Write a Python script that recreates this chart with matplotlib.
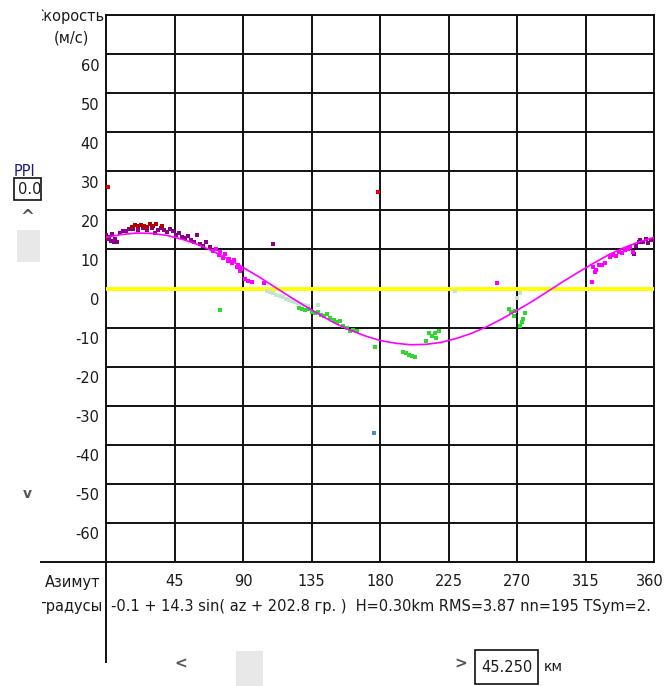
import matplotlib.pyplot as plt
import matplotlib.transforms as mtransforms
from matplotlib.patches import Rectangle
from matplotlib.lines import Line2D
from matplotlib.transforms import Bbox, TransformedBbox

W, H = 665, 686

# fitted curve, every 10 degrees
fit_az = list(range(0, 361, 10))
fit_v = [13.1, 13.8, 14.2, 14.1, 13.6, 12.6, 11.3, 9.6, 7.6, 5.4, 3.1, 0.6,
         -1.9, -4.3, -6.6, -8.8, -10.6, -12.1, -13.3, -14.0, -14.4, -14.3,
         -13.8, -12.8, -11.5, -9.8, -7.8, -5.6, -3.3, -0.8, 1.7, 4.1, 6.4,
         8.6, 10.4, 11.9, 13.1]

# measured points by colour group
red_az = [1, 179]
red_v = [26.0, 24.6]

darkred_az = [17, 19, 21, 23, 25, 27, 29, 31, 33, 37]
darkred_v = [15.8, 16.2, 15.9, 16.3, 16.0, 15.7, 16.4, 16.1, 16.6, 16.0]

purple_az = [0, 1, 2, 3, 4, 5, 6, 7, 9, 11, 13, 15, 18, 21, 24, 27, 30, 32, 34,
             36, 38, 40, 42, 44, 46, 48, 50, 52, 54, 56, 58, 60, 62, 64, 66, 68,
             110, 347, 348, 350, 351, 353, 355, 356, 358, 359]
purple_v = [13.8, 12.6, 13.3, 12.2, 13.9, 12.0, 12.6, 11.9, 14.3, 14.8, 14.6,
            15.2, 15.3, 15.0, 15.4, 15.1, 15.5, 14.3, 14.9, 15.6, 15.0, 14.4,
            15.2, 14.6, 13.6, 14.1, 13.2, 12.9, 13.5, 12.3, 12.0, 13.8, 11.4,
            10.9, 11.9, 10.6, 11.3, 8.8, 11.0, 11.8, 12.4, 12.0, 12.6, 11.7,
            12.5, 12.3]

magenta_az = [70, 72, 74, 75, 77, 78, 80, 81, 83, 84, 86, 87, 88, 89, 91, 93,
              96, 104, 257, 319, 320, 321, 322, 324, 326, 328, 331, 333, 335,
              337, 339, 341, 343, 344, 346]
magenta_v = [9.6, 10.1, 8.6, 9.4, 7.9, 8.8, 7.0, 7.6, 6.4, 7.2, 5.4, 6.1, 4.5,
             5.0, 2.4, 2.0, 1.7, 1.5, 1.4, 1.6, 5.6, 4.3, 4.8, 6.0, 5.9, 6.6,
             8.0, 8.7, 8.3, 9.4, 9.0, 9.8, 10.2, 10.5, 9.3]

ltgreen_az = [106, 108, 110, 112, 114, 116, 118, 120, 122, 124, 126, 128, 130,
              133, 139, 229, 270, 272]
ltgreen_v = [-0.6, -0.9, -1.2, -1.6, -2.0, -2.2, -2.6, -2.9, -3.1, -3.4, -3.8,
             -4.0, -4.3, -4.6, -4.1, -0.6, -2.4, -1.2]

green_az = [75, 127, 129, 131, 133, 135, 137, 139, 141, 143, 145, 147, 150,
            152, 154, 156, 158, 160, 162, 165, 177, 195, 197, 199, 201, 203,
            210, 212, 214, 216, 217, 219, 265, 266, 268, 269, 272, 273, 274, 275]
green_v = [-5.5, -5.0, -5.2, -5.6, -5.3, -5.9, -6.3, -6.0, -6.8, -7.1, -6.6,
           -7.5, -8.0, -8.6, -8.2, -9.5, -10.0, -11.0, -10.5, -10.9, -15.0,
           -16.3, -16.6, -17.0, -17.3, -17.5, -13.4, -11.3, -12.2, -11.5, -12.6,
           -11.0, -5.3, -6.0, -7.0, -5.8, -9.5, -8.6, -7.9, -6.3]

blue_az = [176]
blue_v = [-36.9]

x_ticks = [45, 90, 135, 180, 225, 270, 315, 360]
y_ticks = [60, 50, 40, 30, 20, 10, 0, -10, -20, -30, -40, -50, -60]
fit_text = "-0.1 + 14.3 sin( az + 202.8 гр. )  H=0.30km RMS=3.87 nn=195 TSym=2."

plt.rcParams['font.family'] = ['DejaVu Sans']

fig = plt.figure(figsize=(W / 100, H / 100), dpi=100)


def fx(x):
    return x / W


def fy(y):
    return 1 - y / H


ax = fig.add_axes([fx(106), fy(562), (654 - 106) / W, (562 - 15) / H])
ax.set_xlim(0, 360)
ax.set_ylim(-70, 70)
ax.set_xticks(range(0, 361, 45))
ax.set_yticks(range(-70, 71, 10))
ax.grid(True, color='#111111', lw=1.4)
ax.tick_params(length=0, labelleft=False, labelbottom=False)
for s in ax.spines.values():
    s.set_color('#111111')
    s.set_linewidth(1.4)

ax.axhline(0, color='#ffff00', lw=2.8, zorder=3)

ms = 3.3
ax.plot(ltgreen_az, ltgreen_v, 's', color='#c2e6cc', ms=ms, mew=0, zorder=4)
ax.plot(green_az, green_v, 's', color='#2fd82f', ms=ms, mew=0, zorder=4)
ax.plot(purple_az, purple_v, 's', color='#880088', ms=ms, mew=0, zorder=4)
ax.plot(darkred_az, darkred_v, 's', color='#b00000', ms=ms, mew=0, zorder=4)
ax.plot(magenta_az, magenta_v, 's', color='#ff00ff', ms=ms, mew=0, zorder=4)
ax.plot(red_az, red_v, 's', color='#e00000', ms=ms, mew=0, zorder=4)
ax.plot(blue_az, blue_v, 's', color='#3d8fc4', ms=ms, mew=0, zorder=4)
ax.plot(fit_az, fit_v, '-', color='#ff00ff', lw=1.2, zorder=5)

# y labels sit a bit below their grid line
lab_tr = mtransforms.blended_transform_factory(ax.transAxes, ax.transData) + \
    mtransforms.ScaledTranslation(0, -12 / 100, fig.dpi_scale_trans)
for v in y_ticks:
    ax.text(-0.012, v, str(v), transform=lab_tr, ha='right', va='center',
            fontsize=10.5, color='#1a1a1a')

xl_tr = mtransforms.blended_transform_factory(ax.transData, ax.transAxes) + \
    mtransforms.ScaledTranslation(0, -20 / 100, fig.dpi_scale_trans)
for a in x_ticks:
    t = ax.text(a, 0, str(a), transform=xl_tr, ha='center', va='center',
                fontsize=10.5, color='#1a1a1a', clip_on=False)
    if a == 360:
        t.set_ha('right')
        t.set_transform(xl_tr + mtransforms.ScaledTranslation(10 / 100, 0, fig.dpi_scale_trans))

# extra frame lines outside the axes
fig.add_artist(Line2D([fx(41), fx(106)], [fy(562), fy(562)], color='#111111', lw=1.4))
fig.add_artist(Line2D([fx(106), fx(106)], [fy(562), fy(662)], color='#111111', lw=1.4))

clip = TransformedBbox(Bbox([[fx(42), 0], [fx(105), 1]]), fig.transFigure)
t = fig.text(fx(104), fy(17), "Скорость", ha='right', va='center', fontsize=10.5, color='#1a1a1a')
t.set_clip_box(clip)
t.set_clip_on(True)
fig.text(fx(71), fy(38), "(м/с)", ha='center', va='center', fontsize=10.5, color='#1a1a1a')
fig.text(fx(100), fy(582), "Азимут", ha='right', va='center', fontsize=10.5, color='#1a1a1a')
t = fig.text(fx(103), fy(607), "градусы", ha='right', va='center', fontsize=10.5, color='#1a1a1a')
t.set_clip_box(clip)
t.set_clip_on(True)
fig.text(fx(111), fy(607), fit_text, ha='left', va='center', fontsize=10.5, color='#1a1a1a')

# left widgets
fig.text(fx(14), fy(172), "PPI", ha='left', va='center', fontsize=10.5, color='#1c1c80')
fig.add_artist(Rectangle((fx(14), fy(200)), fx(27), 22 / H, fill=False, ec='#111111', lw=1.2))
clip2 = TransformedBbox(Bbox([[fx(15), 0], [fx(40), 1]]), fig.transFigure)
t = fig.text(fx(18), fy(189), "0.0", ha='left', va='center', fontsize=10.5, color='#1a1a1a')
t.set_clip_box(clip2)
t.set_clip_on(True)
fig.text(fx(27), fy(217), "^", ha='center', va='center', fontsize=12, color='#555555', fontweight='bold')
fig.add_artist(Rectangle((fx(17), fy(262)), fx(23), 32 / H, color='#e8e8e8', lw=0))
fig.text(fx(27), fy(494), "v", ha='center', va='center', fontsize=10, color='#555555', fontweight='bold')

# bottom widgets
fig.text(fx(181), fy(664), "<", ha='center', va='center', fontsize=11, color='#555555', fontweight='bold')
fig.add_artist(Rectangle((fx(236), fy(686)), fx(27), 35 / H, color='#e8e8e8', lw=0))
fig.text(fx(461), fy(664), ">", ha='center', va='center', fontsize=11, color='#555555', fontweight='bold')
fig.add_artist(Rectangle((fx(475), fy(684)), fx(63), 34 / H, fill=False, ec='#111111', lw=1.2))
fig.text(fx(507), fy(667), "45.250", ha='center', va='center', fontsize=10.5, color='#1a1a1a')
fig.text(fx(544), fy(667), "км", ha='left', va='center', fontsize=10, color='#1a1a1a')

fig.savefig('out.png', dpi=100)
